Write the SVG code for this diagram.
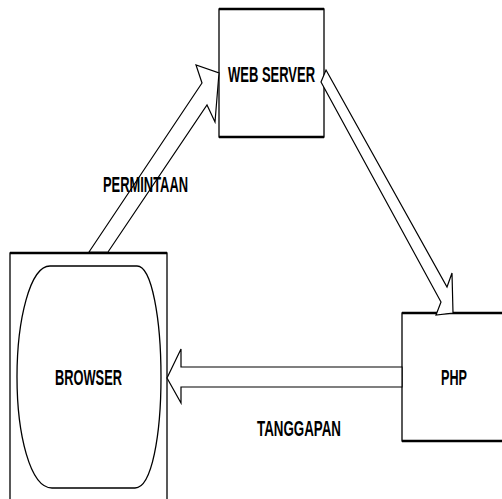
<svg xmlns="http://www.w3.org/2000/svg" width="502" height="499" viewBox="0 0 502 499">
<style>
.box{fill:#fff;stroke:#000;stroke-width:1.3}
.edge{stroke:#000;stroke-width:2.5;fill:none}
.arrow{fill:#fff;stroke:#000;stroke-width:1.2;stroke-linejoin:miter}
.lbl{font-family:"Liberation Sans",Arial,sans-serif;font-weight:bold;font-size:22px;fill:#000}
</style>
<rect width="502" height="499" fill="#fff"/>
<g id="browser">
<rect class="box" x="10" y="253" width="157" height="260"/>
<path class="edge" d="M10,253 H167"/>
<path class="box" stroke-width="2" d="M50,266 H137 C152,266 161,320 161,377 C161,434 152,488 135,488 H52 C30,488 17,434 17,377 C17,320 30,266 50,266 Z"/>
<text class="lbl" x="55" y="385" textLength="67" lengthAdjust="spacingAndGlyphs">BROWSER</text>
</g>
<g id="webserver">
<rect class="box" x="219" y="9" width="105" height="128"/>
<path class="edge" d="M219,9 H324 M219,137 H324"/>
<text class="lbl" x="228" y="82" textLength="87" lengthAdjust="spacingAndGlyphs">WEB SERVER</text>
</g>
<g id="php">
<rect class="box" x="402" y="313" width="110" height="128"/>
<path class="edge" d="M402,313 H502 M402,441 H502"/>
<text class="lbl" x="441" y="385" textLength="26" lengthAdjust="spacingAndGlyphs">PHP</text>
</g>
<g id="connectors">
<polygon class="arrow" points="89,252 202,83 196,65 219,73 215,122 207,105 108,252"/>
<polygon class="arrow" points="326,70 447,287 452,273 453,313 436,315 441,302 321,82"/>
<polygon class="arrow" points="402,367 181,367 181,349 167,378 181,403 181,387 402,387"/>
</g>
<g id="labels">
<text class="lbl" x="103" y="192" textLength="85" lengthAdjust="spacingAndGlyphs">PERMINTAAN</text>
<text class="lbl" x="257" y="436" textLength="84" lengthAdjust="spacingAndGlyphs">TANGGAPAN</text>
</g>
</svg>
